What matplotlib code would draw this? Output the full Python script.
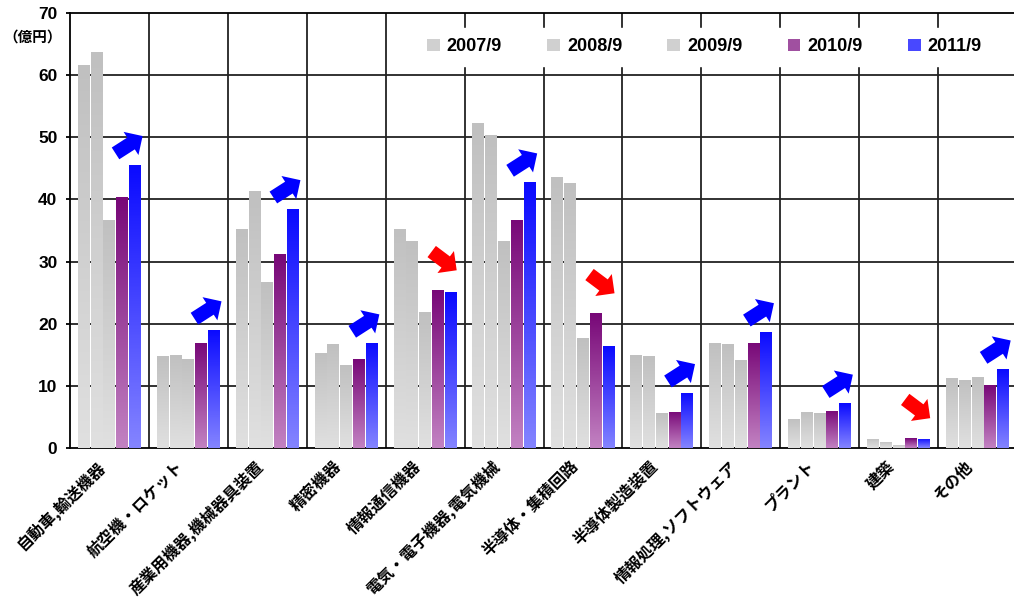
import numpy as np
import matplotlib
matplotlib.use('Agg')
import matplotlib.pyplot as plt
import matplotlib.transforms as mtransforms
from matplotlib.colors import LinearSegmentedColormap
from matplotlib.patches import Patch

plt.rcParams['font.family'] = ['Liberation Sans', 'Noto Sans CJK JP']

categories = ['自動車,輸送機器', '航空機・ロケット', '産業用機器,機械器具装置', '精密機器',
              '情報通信機器', '電気・電子機器,電気機械', '半導体・集積回路', '半導体製造装置',
              '情報処理,ソフトウェア', 'プラント', '建築', 'その他']
years = ['2007/9', '2008/9', '2009/9', '2010/9', '2011/9']
v2007 = [61.7, 14.8, 35.3, 15.3, 35.3, 52.3, 43.6, 15.0, 16.9, 4.7, 1.45, 11.3]
v2008 = [63.7, 15.0, 41.4, 16.7, 33.3, 50.4, 42.7, 14.8, 16.7, 5.8, 1.0, 11.0]
v2009 = [36.7, 14.3, 26.7, 13.4, 21.9, 33.3, 17.7, 5.6, 14.2, 5.6, 0.5, 11.4]
v2010 = [40.4, 16.9, 31.2, 14.3, 25.4, 36.7, 21.7, 5.8, 16.9, 6.0, 1.6, 10.1]
v2011 = [45.6, 19.0, 38.5, 16.9, 25.1, 42.8, 16.4, 8.9, 18.7, 7.2, 1.45, 12.7]

series = [v2007, v2008, v2009, v2010, v2011]
# (top colour, bottom colour, legend colour)
styles = [('#c0c0c0', '#e0e0e0', '#d0d0d0'),
          ('#c0c0c0', '#e0e0e0', '#d0d0d0'),
          ('#c0c0c0', '#e0e0e0', '#d0d0d0'),
          ('#780878', '#c282c2', '#a050a0'),
          ('#0a0aff', '#8484ff', '#4848ff')]

fig = plt.figure(figsize=(10.14, 5.99), dpi=100)
ax = fig.add_axes([70 / 1014, 151 / 599, 947 / 1014, 435 / 599])

x = np.arange(len(categories))
step = 0.162
width = 0.152
grad = np.linspace(0, 1, 100).reshape(-1, 1)

for i, vals in enumerate(series):
    c_top, c_bot, c_mid = styles[i]
    cmap = LinearSegmentedColormap.from_list('s%d' % i, [c_bot, c_top])
    bars = ax.bar(x + (i - 2) * step, vals, width, color=c_mid, linewidth=0, zorder=3)
    for b in bars:
        im = ax.imshow(grad, cmap=cmap, origin='lower', aspect='auto', zorder=3.1,
                       extent=[b.get_x(), b.get_x() + b.get_width(), 0, b.get_height()])
        im.set_clip_path(b)

# 増減の矢印
for k, gx in enumerate(x):
    top = max(v2010[k], v2011[k])
    if v2011[k] >= v2010[k]:
        tip, off, col = (gx + 0.42, top + 4.6), (-19.5, -12.5), '#0000ff'
    else:
        tip, off, col = (gx + 0.40, top + 3.2), (-18, 13.5), '#ff0000'
    ax.annotate('', xy=tip, xytext=off, textcoords='offset points', zorder=5,
                arrowprops=dict(arrowstyle='simple,head_length=0.55,head_width=1.1,tail_width=0.56',
                                mutation_scale=18, color=col, lw=0, shrinkA=0, shrinkB=0))

ax.set_xlim(-0.5, len(categories) - 0.5)
ax.set_ylim(0, 70)

for yv in range(10, 70, 10):
    ax.axhline(yv, color='#222222', lw=1.3, zorder=1)
for xv in np.arange(0.5, len(categories) - 0.5, 1):
    ax.axvline(xv, color='#222222', lw=1.3, zorder=1)
for s in ['left', 'bottom', 'top']:
    ax.spines[s].set_linewidth(1.3)
ax.spines['right'].set_visible(False)

ax.set_yticks(range(0, 71, 10))
ax.set_yticklabels([str(v) for v in range(0, 71, 10)], fontsize=12.5, fontweight='bold')
ax.tick_params(axis='y', length=3, width=1.3, pad=6)
ax.set_xticks(x)
ax.set_xticklabels(categories, rotation=45, ha='right', rotation_mode='anchor',
                   fontsize=11.5, fontweight='bold', family=['Noto Sans CJK JP'])
ax.tick_params(axis='x', length=0, pad=7)
shift = mtransforms.ScaledTranslation(-13 / 100, 0, fig.dpi_scale_trans)
for lab in ax.get_xticklabels():
    lab.set_transform(lab.get_transform() + shift)

fig.text(33 / 1014, 1 - 37 / 599, '（億円）', ha='center', va='center', fontsize=10.5,
         fontweight='bold', family=['Noto Sans CJK JP'])

handles = [Patch(facecolor=s[2], edgecolor='none') for s in styles]
leg = ax.legend(handles, years, ncol=5, loc='center', bbox_to_anchor=(0.67, 0.922),
                frameon=True, fancybox=False, edgecolor='white', framealpha=1,
                handlelength=0.7, handleheight=0.7, handletextpad=0.4, columnspacing=2.5,
                prop=dict(weight='bold', size=13), borderpad=0.6)
leg.set_zorder(6)

fig.savefig('out.png', dpi=100)
